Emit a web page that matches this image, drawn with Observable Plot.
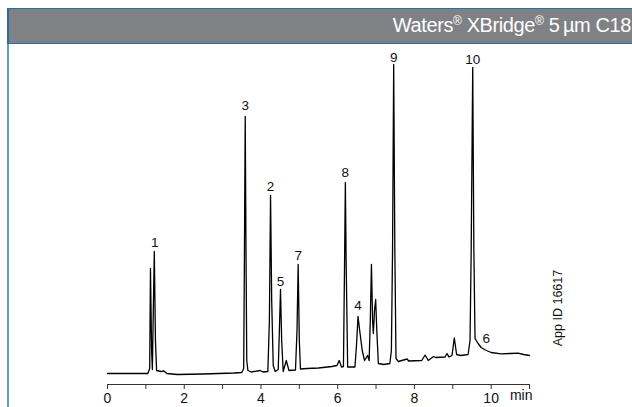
<!DOCTYPE html>
<html>
<head>
<meta charset="utf-8">
<script src="https://cdn.jsdelivr.net/npm/d3@7"></script>
<script src="https://cdn.jsdelivr.net/npm/@observablehq/plot@0.6"></script>
<style>
  html, body { margin: 0; padding: 0; background: #fff; }
  #wrap { position: relative; width: 632px; height: 407px; overflow: hidden; font-family: "Liberation Sans", Arial, Helvetica, sans-serif; }
  #leftline { position: absolute; left: 7px; top: 8px; width: 2px; height: 399px; background: #5d9fcf; }
  #header { position: absolute; left: 7px; top: 8px; width: 640px; height: 34px; background: #808184;
            border-top: 1.5px solid #1f70ad; border-bottom: 1.5px solid #1f70ad; border-left: 2px solid #1f70ad; box-sizing: content-box; }
  #title { position: absolute; right: 1px; top: 14px; color: #fff; font-size: 20px; white-space: nowrap; letter-spacing: -0.4px; }
  #title sup { font-size: 12px; vertical-align: 0; position: relative; top: -7px; }
  #appid { position: absolute; left: 558px; top: 308px; font-size: 12.5px; color: #111; white-space: nowrap;
           transform: translate(-50%, -50%) rotate(-90deg); }
  #chart { position: absolute; left: 0; top: 0; }
</style>
</head>
<body>
<div id="wrap">
  <div id="leftline"></div>
  <div id="header"></div>
  <div id="title">Waters<sup>®</sup> XBridge<sup>®</sup> 5&#8201;µm C18</div>
  <div id="chart"></div>
  <div id="appid">App ID 16617</div>
</div>
<script>
// Chromatogram trace: retention time (min) and detector signal (arbitrary units)
const times = [
  0.00, 0.50, 1.05, 1.10, 1.12, 1.15, 1.17, 1.19, 1.22, 1.25, 1.28, 1.40, 1.47, 1.55, 1.82, 2.50, 3.30,
  3.50, 3.55, 3.57, 3.59, 3.61, 3.63, 3.66, 3.75, 3.98, 4.05,
  4.18, 4.22, 4.25, 4.28, 4.32, 4.37, 4.45, 4.48, 4.51, 4.54, 4.58, 4.66, 4.73,
  4.90, 4.94, 4.97, 5.00, 5.03, 5.20, 5.50, 5.85, 5.98, 6.04, 6.10,
  6.15, 6.18, 6.20, 6.22, 6.26, 6.45, 6.49, 6.53, 6.58, 6.64, 6.70, 6.78, 6.82,
  6.85, 6.88, 6.91, 6.93, 6.96, 6.99, 7.02, 7.06, 7.20, 7.36,
  7.40, 7.43, 7.46, 7.49, 7.52, 7.58, 7.81, 7.85, 8.19, 8.28, 8.36, 8.50, 8.55,
  8.80, 8.85, 8.90, 8.98, 9.04, 9.10, 9.20, 9.40,
  9.45, 9.48, 9.52, 9.55, 9.58, 9.66, 9.74, 9.85, 10.00, 10.26, 10.50, 10.70, 10.85, 11.00
];
const signal = [
  0, 0, 0, 5, 105, 23, 4, 53, 122, 33, 3, 2, 2.5, 0, -1, -0.5, 0.5,
  1, 5, 123, 257, 123, 13, 3, 1.5, 3, 1.5,
  2, 53, 178, 73, 8, 2, 4, 43, 84, 33, 2, 13, 3,
  3.5, 43, 109, 33, 4.5, 5, 5.5, 7, 8, 13, 6.5,
  7, 113, 191, 113, 6.5, 6.5, 28, 57, 41, 23, 13, 18, 13,
  53, 109, 53, 40, 63, 74, 43, 10, 9, 10,
  23, 123, 309, 123, 15, 12, 14.5, 12.5, 13, 18.5, 13, 17, 16,
  16.5, 20, 16.5, 18, 35.5, 19, 18, 19,
  33, 123, 306, 123, 35, 30, 26, 23.5, 21, 19.7, 20, 20.3, 19, 18
];
// Peak labels
const peakNames = ["1", "3", "2", "5", "7", "8", "4", "9", "10", "6"];
const peakTimes = [1.23, 3.59, 4.25, 4.51, 4.97, 6.20, 6.53, 7.46, 9.52, 9.87];
const peakLabelSignal = [131, 268, 187, 92, 118, 201, 68, 316, 314, 35];
// Axis ticks
const tickValues = [0, 1, 2, 3, 4, 5, 6, 7, 8, 9, 10, 11];
const tickLabels = ["0", "", "2", "", "4", "", "6", "", "8", "", "10", ""];

const trace = times.map((t, i) => ({t, s: signal[i]}));
const peaks = peakNames.map((n, i) => ({name: n, t: peakTimes[i], s: peakLabelSignal[i]}));

const chart = Plot.plot({
  width: 632,
  height: 407,
  marginLeft: 107,
  marginRight: 103,
  marginTop: 0,
  marginBottom: 23,
  style: {fontFamily: "'Liberation Sans', Arial, Helvetica, sans-serif", background: "transparent", color: "#111"},
  x: {domain: [0, 11]},
  y: {domain: [0, 309], range: [373, 64], axis: null},
  marks: [
    Plot.frame({anchor: "bottom", stroke: "#333", strokeWidth: 1}),
    Plot.axisX({
      ticks: tickValues,
      tickSize: 5,
      tickPadding: 4,
      tickFormat: (d) => tickLabels[tickValues.indexOf(d)],
      fontSize: 14,
      label: null,
      stroke: "#333"
    }),
    Plot.text(["min"], {frameAnchor: "bottom-right", textAnchor: "end", dx: 3, dy: 15, fontSize: 14}),
    Plot.line(trace, {x: "t", y: "s", stroke: "#000", strokeWidth: 1.3, strokeLinejoin: "round"}),
    Plot.text(peaks, {x: "t", y: "s", text: "name", fontSize: 13.5})
  ]
});
document.getElementById("chart").appendChild(chart);
</script>
</body>
</html>
